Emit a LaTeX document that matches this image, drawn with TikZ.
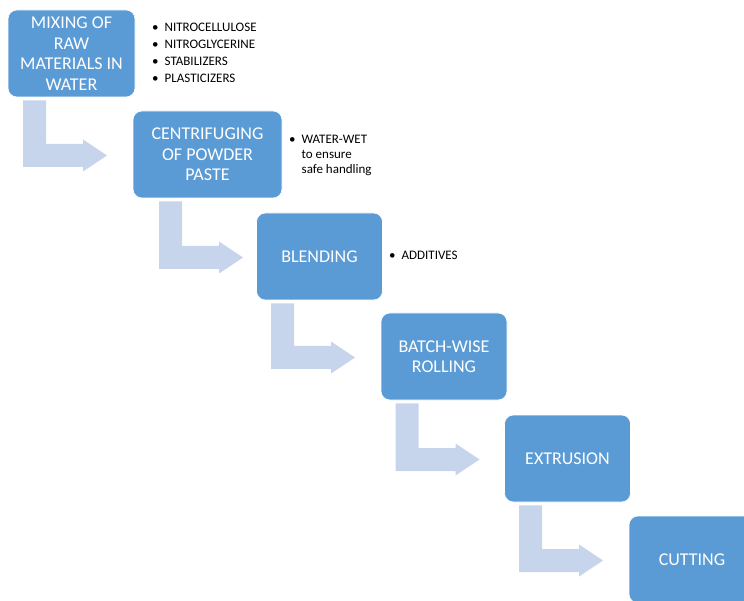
\documentclass[tikz,border=0pt]{standalone}
\usepackage{fontspec}
\setmainfont{Carlito}
\usetikzlibrary{calc}

\definecolor{boxblue}{HTML}{5B9BD5}
\definecolor{arrowblue}{HTML}{C6D5EB}

\newcommand{\bul}{\makebox[12.5pt][l]{\textbullet}}
% bent block arrow from the bottom of one step to the side of the next
\newcommand{\stepArrow}[2]{%
    \path let \p1=(#1.center), \p2=(#1.south), \p3=(#2.center) in
        [fill=arrowblue]
        (\x1-48.5pt,\y2-3pt) -- (\x1-25.5pt,\y2-3pt) -- (\x1-25.5pt,\y3+10.5pt)
        -- (\x1+11.5pt,\y3+10.5pt) -- (\x1+11.5pt,\y3+15pt) -- (\x1+35.5pt,\y3-1pt)
        -- (\x1+11.5pt,\y3-17pt) -- (\x1+11.5pt,\y3-12.5pt) -- (\x1-48.5pt,\y3-12.5pt) -- cycle;
}

\begin{document}
\begin{tikzpicture}[
        x=1pt, y=-1pt, % y grows downward, as in the page
        stepbox/.style={rectangle, rounded corners=9pt, fill=boxblue, draw=white, line width=0.6pt,
            text=white, align=center, inner sep=2pt, minimum width=126pt, minimum height=87pt,
            font=\fontsize{18}{20.5}\selectfont},
        note/.style={anchor=west, inner sep=0pt, align=left, font=\fontsize{13}{15}\selectfont}, % bullet lists
    ]
    \useasboundingbox (0,0) rectangle (744,601);
    \clip (0,0) rectangle (744,601);

    \node[stepbox, minimum width=127pt] (mixing) at (71.5,53.5) {MIXING OF\\RAW\\MATERIALS IN\\WATER};
    \node[stepbox, minimum width=149pt] (centri) at (207.5,154.5) {CENTRIFUGING\\OF POWDER\\PASTE};
    \node[stepbox] (blend) at (319.5,256.5) {BLENDING};
    \node[stepbox] (roll) at (444,356.5) {BATCH-WISE\\ROLLING};
    \node[stepbox] (extru) at (567.5,458.5) {EXTRUSION};
    \node[stepbox] (cut) at (692,559.5) {CUTTING};

    \stepArrow{mixing}{centri}
    \stepArrow{centri}{blend}
    \stepArrow{blend}{roll}
    \stepArrow{roll}{extru}
    \stepArrow{extru}{cut}

    \node[note] (rawlist) at (152,53) {\bul NITROCELLULOSE\\[2pt]\bul NITROGLYCERINE\\[2pt]\bul STABILIZERS\\[2pt]\bul PLASTICIZERS};
    \node[note] (wetlist) at (289,155) {\bul WATER-WET\\\hspace*{12.5pt}to ensure\\\hspace*{12.5pt}safe handling};
    \node[note] (addlist) at (389,255.5) {\bul ADDITIVES};

\end{tikzpicture}
\end{document}
